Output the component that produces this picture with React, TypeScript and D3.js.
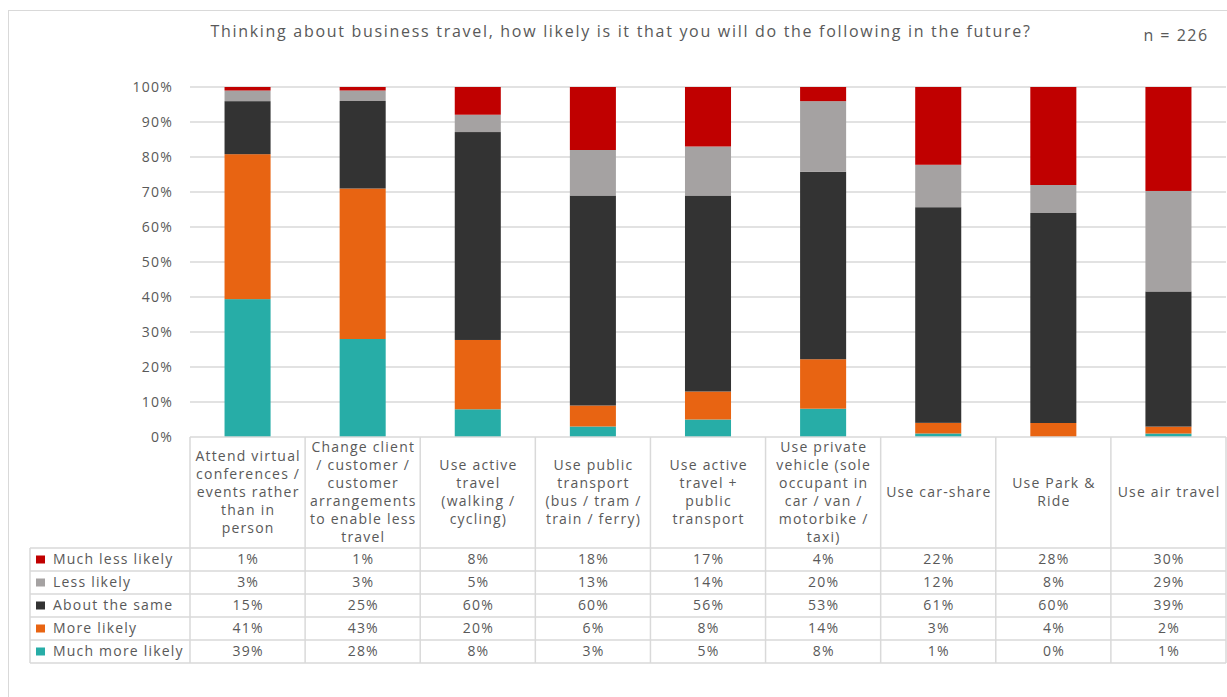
import React from "react";
import * as d3 from "d3";

const categories = [
  "Attend virtual\nconferences /\nevents rather\nthan in\nperson",
  "Change client\n/ customer /\ncustomer\narrangements\nto enable less\ntravel",
  "Use active\ntravel\n(walking /\ncycling)",
  "Use public\ntransport\n(bus / tram /\ntrain / ferry)",
  "Use active\ntravel +\npublic\ntransport",
  "Use private\nvehicle (sole\noccupant in\ncar / van /\nmotorbike /\ntaxi)",
  "Use car-share",
  "Use Park &\nRide",
  "Use air travel",
];

const seriesNames = ["Much more likely", "More likely", "About the same", "Less likely", "Much less likely"];
const seriesColors = ["#27ADA7", "#E86412", "#333333", "#A5A2A2", "#C00000"];

const muchMoreLikely = [39, 28, 8, 3, 5, 8, 1, 0, 1];
const moreLikely = [41, 43, 20, 6, 8, 14, 3, 4, 2];
const aboutTheSame = [15, 25, 60, 60, 56, 53, 61, 60, 39];
const lessLikely = [3, 3, 5, 13, 14, 20, 12, 8, 29];
const muchLessLikely = [1, 1, 8, 18, 17, 4, 22, 28, 30];

const seriesValues = [muchMoreLikely, moreLikely, aboutTheSame, lessLikely, muchLessLikely];
const yTicks = [0, 0.1, 0.2, 0.3, 0.4, 0.5, 0.6, 0.7, 0.8, 0.9, 1];

const title = "Thinking about business travel, how likely is it that you will do the following in the future?";
const nLabel = "n = 226";

const FONT = "'Open Sans', sans-serif";
const TEXT = "#595959";
const LINE = "#D9D9D9";
const FS = 14;
const LS = 1.2;

export default function App() {
  const left = 190;
  const right = 1226;
  const top = 87;
  const bottom = 437;
  const headerBottom = 548;
  const rowH = 23;
  const legendLeft = 30;

  const rows = categories.map((c, i) => {
    const r: any = { cat: c };
    seriesNames.forEach((s, j) => (r[s] = seriesValues[j][i]));
    return r;
  });
  const stack = d3.stack<any>().keys(seriesNames).offset(d3.stackOffsetExpand);
  const stacked = stack(rows);

  const x = d3.scaleBand<string>().domain(categories).range([left, right]).paddingInner(0).paddingOuter(0);
  const y = d3.scaleLinear().domain([0, 1]).range([bottom, top]);
  const bw = x.bandwidth() * 0.4;
  const fmt = d3.format(".0%");

  const tableRows = [...seriesNames].reverse();
  const tableBottom = headerBottom + rowH * tableRows.length;

  return (
    <svg width={1227} height={697} style={{ position: "absolute", left: 0, top: 0, background: "#fff" }} fontFamily={FONT}>
      <rect x={8.5} y={10.5} width={1240} height={720} fill="#fff" stroke={LINE} />
      <text x={621} y={37} textAnchor="middle" fontSize={16} letterSpacing={1.7} fill={TEXT}>{title}</text>
      <text x={1176} y={41} textAnchor="middle" fontSize={16} letterSpacing={1.5} fill={TEXT}>{nLabel}</text>

      {yTicks.map((t) => (
        <g key={t}>
          {t > 0 && <line x1={left} x2={right} y1={y(t)} y2={y(t)} stroke={LINE} strokeWidth={1.3} />}
          <text x={173} y={y(t)} dy="0.35em" textAnchor="end" fontSize={FS} letterSpacing={LS} fill={TEXT}>{fmt(t)}</text>
        </g>
      ))}

      {stacked.map((s, j) => (
        <g key={s.key} fill={seriesColors[j]}>
          {s.map((d, i) => (
            <rect key={i} x={(x(categories[i]) as number) + (x.bandwidth() - bw) / 2} y={y(d[1])} width={bw} height={Math.max(0, y(d[0]) - y(d[1]))} />
          ))}
        </g>
      ))}

      {/* table */}
      <g stroke={LINE} strokeWidth={1.5} fill="none">
        <line x1={left} x2={right} y1={bottom} y2={bottom} />
        {categories.map((c, i) => (
          <line key={i} x1={x(c)} x2={x(c)} y1={bottom} y2={tableBottom} />
        ))}
        <line x1={right} x2={right} y1={bottom} y2={tableBottom} />
        <line x1={legendLeft} x2={legendLeft} y1={headerBottom} y2={tableBottom} />
        {d3.range(tableRows.length + 1).map((k) => (
          <line key={k} x1={legendLeft} x2={right} y1={headerBottom + k * rowH} y2={headerBottom + k * rowH} />
        ))}
      </g>

      {categories.map((c, i) => {
        const lines = c.split("\n");
        const cy = (bottom + headerBottom) / 2;
        const lh = 18;
        const y0 = cy - ((lines.length - 1) * lh) / 2;
        return (
          <text key={i} textAnchor="middle" fontSize={FS} letterSpacing={LS} fill={TEXT}>
            {lines.map((l, k) => (
              <tspan key={k} x={(x(c) as number) + x.bandwidth() / 2 + LS / 2} y={y0 + k * lh} dy="0.35em">{l}</tspan>
            ))}
          </text>
        );
      })}

      {tableRows.map((name, r) => {
        const j = seriesNames.indexOf(name);
        const cy = headerBottom + r * rowH + rowH / 2;
        return (
          <g key={name}>
            <rect x={36} y={cy - 4} width={9} height={8} fill={seriesColors[j]} />
            <text x={53} y={cy} dy="0.35em" fontSize={FS} letterSpacing={LS} fill={TEXT}>{name}</text>
            {categories.map((c, i) => (
              <text key={i} x={(x(c) as number) + x.bandwidth() / 2 + LS / 2} y={cy} dy="0.35em" textAnchor="middle" fontSize={FS} letterSpacing={LS} fill={TEXT}>
                {fmt(seriesValues[j][i] / 100)}
              </text>
            ))}
          </g>
        );
      })}
    </svg>
  );
}
